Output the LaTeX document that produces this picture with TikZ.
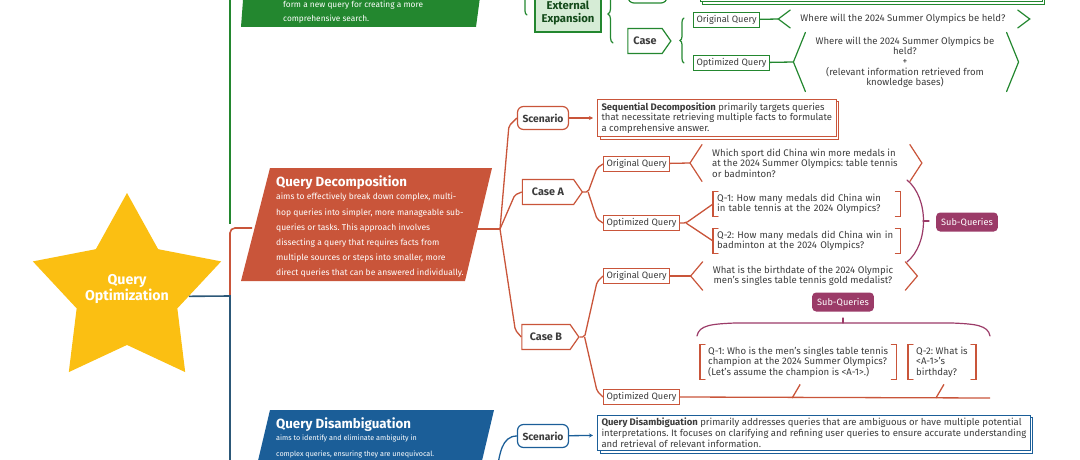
\documentclass[tikz,border=0pt]{standalone}
\usepackage{fontspec}
\setmainfont{Fira Sans}
\usetikzlibrary{arrows.meta, positioning, shapes.geometric, shapes.symbols, shadows, calc, decorations.pathreplacing}
\frenchspacing

\definecolor{qgreen}{HTML}{23872F}
\definecolor{qorange}{HTML}{C9553A}
\definecolor{qblue}{HTML}{1B5E98}
\definecolor{qtrunk}{HTML}{2C5878}
\definecolor{qpurple}{HTML}{9B3B68}
\definecolor{qyellow}{HTML}{FBBF12}
\definecolor{qpale}{HTML}{D6ECD6}
\definecolor{qtext}{HTML}{3C3C3C}

% angle brackets round a text node
\newcommand{\qangles}[2]{%
  \draw[#2, brk] ($(#1.north west)+(-8,0)$) -- ($(#1.west)+(-20,0)$) coordinate (#1-l) -- ($(#1.south west)+(-8,0)$);
  \draw[#2, brk] ($(#1.north east)+(10,0)$) -- ($(#1.east)+(22,0)$) -- ($(#1.south east)+(10,0)$);}
% square brackets round a text node
\newcommand{\qsquare}[2]{%
  \draw[#2, brk] ($(#1.north west)+(5,0)$) -- (#1.north west) -- (#1.south west) -- ++(5,0);
  \draw[#2, brk] ($(#1.north east)+(-5,0)$) -- (#1.north east) -- (#1.south east) -- ++(-5,0);}

\begin{document}
\begin{tikzpicture}[
    x=1pt, y=-1pt,
    qbox/.style={draw, line width=1pt, fill=white, inner xsep=3pt, inner ysep=2.5pt,
                 font=\fontsize{9.2}{10}\selectfont, text=qtext},
    qtxt/.style={inner xsep=2pt, inner ysep=4pt, font=\fontsize{9.6}{10.4}\selectfont, text=qtext},
    scen/.style={draw, line width=1.2pt, rounded corners=6pt, fill=white, minimum width=51pt,
                 minimum height=23pt, inner sep=1pt, font=\bfseries\fontsize{10.3}{11}\selectfont, text=qtext},
    casebox/.style={signal, signal to=east, signal pointer angle=110, draw, line width=1.2pt, fill=white,
                    minimum height=25pt, inner xsep=5pt, font=\bfseries\fontsize{10.8}{11}\selectfont, text=qtext},
    desc/.style={draw, line width=1pt, fill=white, align=left, inner xsep=4pt, inner ysep=3pt,
                 font=\fontsize{9.5}{10.8}\selectfont, text=qtext,
                 copy shadow={shadow xshift=2.5pt, shadow yshift=-2.5pt}},
    subq/.style={fill=qpurple, rounded corners=4pt, minimum height=19pt, inner xsep=5pt,
                 font=\fontsize{9.2}{10}\selectfont, text=white},
    brk/.style={line width=1.2pt, line cap=round},
    link/.style={line width=1.3pt, rounded corners=2pt},
    arr/.style={link, -{Stealth[length=4pt, width=4pt]}, shorten >=4pt},
    title/.style={font=\bfseries\fontsize{13.3}{15}\selectfont, text=white, anchor=west, inner sep=0pt},
    blurb/.style={font=\fontsize{8.5}{15.2}\selectfont, text=white, anchor=north west, align=left, inner sep=0pt},
]
\clip (0,0) rectangle (1080,460);

% root
\node[star, star points=5, star point ratio=1.87, minimum size=198pt, fill=qyellow, inner sep=0pt] (star) at (127,292) {};
\node[align=center, text=white, font=\bfseries\fontsize{14.2}{16}\selectfont] (starlabel) at (127,289) {Query\\Optimization};
\coordinate (hub) at (230,296);
\draw[qgreen, line width=1.6pt] (230,-5) -- (230,224);
\draw[qorange, line width=1.6pt, rounded corners=5pt] (hub) -- (230,228) -- (252,228);
\draw[qtrunk, line width=1.6pt] (star.-4) -- (hub) -- ++(0,180);

% expansion (top, cut off)
\fill[qgreen] (246,-40) -- (485,-40) -- (476,27) -- (241,27) -- cycle;
\node[blurb, anchor=west, font=\fontsize{8.3}{14}\selectfont] (gblurb) at (283,12) {form a new query for creating a more\\comprehensive search.};
\draw[qgreen, brk, decorate, decoration={brace, amplitude=4pt}] (527,15) -- (527,-60);
\node[draw=qgreen, fill=qpale, line width=1.3pt, align=center, minimum width=66pt, minimum height=38pt,
      inner sep=1pt, font=\bfseries\fontsize{11.3}{13}\selectfont, text=qgreen!55!black] (gext) at (568,13) {External\\Expansion};
\draw[qgreen, brk, decorate, decoration={brace, amplitude=5pt}] (613,43) -- (613,-15);
\draw[qgreen, line width=1.2pt, rounded corners=6pt] (628,-25) rectangle (667,3);
\path[desc, draw=qgreen] (700,-40) rectangle (1042,2);

\node[casebox, draw=qgreen, minimum width=43pt] (gcase) at (645,41) {Case};
\draw[qgreen, brk, decorate, decoration={brace, amplitude=4pt}] (684,63) -- (684,18);
\node[qbox, draw=qgreen, anchor=west] (gorig) at (693,20) {Original Query};
\node[qbox, draw=qgreen, anchor=west] (gopt) at (693,63) {Optimized Query};
\node[qtxt] (gorigq) at (903,19) {Where will the 2024 Summer Olympics be held?};
\qangles{gorigq}{qgreen}
\draw[qgreen, link] (gorig) -- (gorigq-l);
\node[qtxt, align=center, font=\fontsize{9.6}{10.3}\selectfont] (goptq) at (905,62)
  {Where will the 2024 Summer Olympics be\\held?\\+\\(relevant information retrieved from\\knowledge bases)};
\qangles{goptq}{qgreen}
\draw[qgreen, link] (gopt) -- (goptq-l);

% decomposition
\fill[qorange] (270,168) -- (492,168) -- (465,281) -- (241,281) -- cycle;
\node[title] (dtitle) at (276,183) {Query Decomposition};
\node[blurb] (dblurb) at (276,193) {aims to effectively break down complex, multi-\\hop queries into simpler, more manageable sub-\\queries or tasks. This approach involves\\dissecting a query that requires facts from\\multiple sources or steps into smaller, more\\direct queries that can be answered individually.};
\coordinate (dbox) at (477,229);
\coordinate (dfork) at (500,229);
\draw[qorange, link] (dbox) -- (dfork);

\node[scen, draw=qorange] (dscen) at (543,118) {Scenario};
\node[desc, draw=qorange, anchor=west] (ddesc) at (597,118) {\textbf{Sequential Decomposition} primarily targets queries\\that necessitate retrieving multiple facts to formulate\\a comprehensive answer.};
\draw[qorange, arr] (dscen) -- (ddesc);
\node[casebox, draw=qorange, minimum width=60pt] (dcasea) at (548,192) {Case A};
\node[casebox, draw=qorange, minimum width=57pt] (dcaseb) at (546,337) {Case B};
\draw[qorange, link] (dfork) -- ($(dscen.west)+(-8,8)$) -- (dscen.west);
\draw[qorange, link] (dfork) -- ($(dcasea.west)+(-7,3)$) -- (dcasea.west);
\draw[qorange, link] (dfork) -- ($(dcaseb.west)+(-6,-7)$) -- (dcaseb.west);

% case A
\node[qbox, draw=qorange, anchor=west] (dorig) at (603,164) {Original Query};
\node[qbox, draw=qorange, anchor=west] (dopt) at (603,223) {Optimized Query};
\coordinate (dfa) at ($(dcasea.east)+(5,0)$);
\draw[qorange, link] (dcasea.east) -- (dfa) -- ($(dorig.west)+(-6,4)$) -- (dorig.west);
\draw[qorange, link] (dfa) -- ($(dopt.west)+(-6,-4)$) -- (dopt.west);
\node[qtxt, anchor=west, align=left] (dorigq) at (710,163) {Which sport did China win more medals in\\at the 2024 Summer Olympics: table tennis\\or badminton?};
\qangles{dorigq}{qorange}
\draw[qorange, link] (dorig) -- (dorigq-l);
\node[qtxt, anchor=west, align=left, text width=179pt, inner xsep=4pt, inner ysep=2pt] (dq1) at (713,204) {Q-1: How many medals did China win\\in table tennis at the 2024 Olympics?};
\node[qtxt, anchor=west, align=left, text width=179pt, inner xsep=4pt, inner ysep=2pt] (dq2) at (713,241) {Q-2: How many medals did China win in\\badminton at the 2024 Olympics?};
\qsquare{dq1}{qorange}
\qsquare{dq2}{qorange}
\coordinate (dfo) at ($(dopt.east)+(6,0)$);
\draw[qorange, link] (dopt.east) -- (dfo) -- (dq1.west);
\draw[qorange, link] (dfo) -- (dq2.west);
\draw[qpurple, brk] (907,180) .. controls (929,198) and (929,244) .. (907,262);
\coordinate (dpar) at (923,221);
\node[subq] (dsub1) at (967,222) {Sub-Queries};
\draw[qpurple, brk] (dpar) -- ++(6,0);

% case B
\node[qbox, draw=qorange, anchor=west] (dborig) at (603,276) {Original Query};
\node[qbox, draw=qorange, anchor=west] (dbopt) at (603,397) {Optimized Query};
\coordinate (dfb) at ($(dcaseb.east)+(5,0)$);
\draw[qorange, link] (dcaseb.east) -- (dfb) -- ($(dborig.west)+(-6,6)$) -- (dborig.west);
\draw[qorange, link] (dfb) -- ($(dbopt.west)+(-6,-6)$) -- (dbopt.west);
\node[qtxt, align=center] (dborigq) at (803,276) {What is the birthdate of the 2024 Olympic\\men's singles table tennis gold medalist?};
\qangles{dborigq}{qorange}
\draw[qorange, link] (dborig) -- (dborigq-l);
\node[subq] (dsub2) at (843,302) {Sub-Queries};
\coordinate (dbrace) at (843,323);
\draw[qpurple, brk] (697,336) .. controls (699,325) and (712,324) .. (735,323) -- (952,323)
  .. controls (975,324) and (988,325) .. (990,336);
\draw[qpurple, brk] (dbrace) -- ++(0,-5);
\node[qtxt, anchor=west, align=left, inner xsep=8pt, inner ysep=2pt] (dbq1) at (700,362) {Q-1: Who is the men's singles table tennis\\champion at the 2024 Summer Olympics?\\(Let's assume the champion is <A-1>.)};
\node[qtxt, anchor=west, align=left, inner xsep=8pt, inner ysep=2pt] (dbq2) at (908,362) {Q-2: What is\\<A-1>'s\\birthday?};
\qsquare{dbq1}{qorange}
\qsquare{dbq2}{qorange}
\coordinate (dbend) at (990,398);
\draw[qorange, link] (dbopt.east) -- (dbend);
\draw[qorange, link] ($(dbend -| dbq1.south)+(-6,0)$) -- ($(dbq1.south)+(2,5)$);
\draw[qorange, link] ($(dbend -| dbq2.south)+(-6,0)$) -- ($(dbq2.south)+(2,5)$);

% disambiguation (bottom, cut off)
\fill[qblue] (270,410) -- (494,410) -- (481,465) -- (257,465) -- cycle;
\node[title] (qtitle) at (276,425) {Query Disambiguation};
\node[blurb, font=\fontsize{7.2}{15.2}\selectfont] (qblurb) at (276,435) {aims to identify and eliminate ambiguity in\\complex queries, ensuring they are unequivocal.};
\node[scen, draw=qblue] (qscen) at (543,436) {Scenario};
\node[desc, draw=qblue, anchor=west] (qdesc) at (597,433) {\textbf{Query Disambiguation} primarily addresses queries that are ambiguous or have multiple potential\\interpretations. It focuses on clarifying and refining user queries to ensure accurate understanding\\and retrieval of relevant information.};
\draw[qblue, arr] (qscen) -- (qdesc);
\coordinate (qfork) at (497,470);
\draw[qblue, link] (qfork) to[out=80, in=180] (qscen.west);
\end{tikzpicture}
\end{document}
